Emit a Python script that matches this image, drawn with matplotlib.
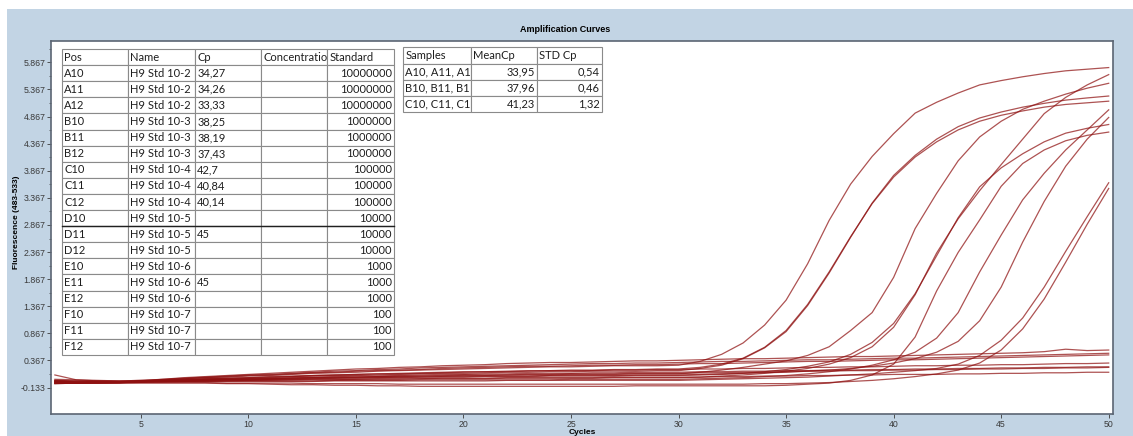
import numpy as np
import matplotlib
matplotlib.use('Agg')
import matplotlib.pyplot as plt
from matplotlib.patches import Rectangle
from matplotlib.ticker import FixedLocator, FormatStrFormatter

cycles = list(range(1, 51))

# Fluorescence (483-533) per cycle, one list per well
A10 = [-0.03, -0.04, -0.03, -0.03, -0.02, 0.00, 0.01, 0.02, 0.03, 0.04,
       0.05, 0.07, 0.08, 0.09, 0.09, 0.10, 0.11, 0.12, 0.13, 0.13,
       0.14, 0.15, 0.15, 0.16, 0.16, 0.17, 0.17, 0.17, 0.18, 0.18,
       0.22, 0.28, 0.40, 0.60, 0.90, 1.38, 1.98, 2.64, 3.27, 3.78,
       4.15, 4.45, 4.68, 4.84, 4.95, 5.04, 5.11, 5.17, 5.21, 5.245]
A11 = [-0.04, -0.05, -0.05, -0.04, -0.02, 0.00, 0.02, 0.03, 0.04, 0.05,
       0.07, 0.08, 0.09, 0.10, 0.11, 0.12, 0.13, 0.14, 0.15, 0.16,
       0.16, 0.17, 0.18, 0.18, 0.19, 0.19, 0.20, 0.20, 0.21, 0.21,
       0.24, 0.30, 0.41, 0.61, 0.92, 1.40, 2.00, 2.65, 3.26, 3.75,
       4.12, 4.40, 4.62, 4.78, 4.89, 4.97, 5.04, 5.09, 5.12, 5.15]
A12 = [0.00, -0.01, -0.01, -0.01, 0.00, 0.01, 0.03, 0.05, 0.06, 0.08,
       0.09, 0.11, 0.13, 0.14, 0.15, 0.17, 0.18, 0.19, 0.20, 0.21,
       0.22, 0.23, 0.24, 0.25, 0.25, 0.26, 0.27, 0.27, 0.27, 0.28,
       0.35, 0.48, 0.69, 1.02, 1.48, 2.15, 2.95, 3.62, 4.13, 4.55,
       4.93, 5.13, 5.30, 5.45, 5.53, 5.60, 5.66, 5.71, 5.74, 5.77]
B10 = [-0.01, -0.03, -0.03, -0.03, -0.02, -0.01, -0.01, 0.00, 0.01, 0.01,
       0.02, 0.02, 0.03, 0.04, 0.04, 0.05, 0.05, 0.06, 0.06, 0.06,
       0.07, 0.07, 0.07, 0.08, 0.08, 0.08, 0.08, 0.09, 0.09, 0.09,
       0.10, 0.11, 0.13, 0.16, 0.20, 0.26, 0.34, 0.48, 0.70, 1.05,
       1.60, 2.30, 3.00, 3.57, 3.92, 4.18, 4.40, 4.56, 4.65, 4.72]
B11 = [-0.05, -0.05, -0.04, -0.04, -0.03, -0.02, -0.02, -0.01, -0.01, 0.00,
       0.00, 0.01, 0.01, 0.01, 0.02, 0.02, 0.02, 0.03, 0.03, 0.03,
       0.03, 0.04, 0.04, 0.04, 0.04, 0.04, 0.05, 0.05, 0.05, 0.05,
       0.06, 0.08, 0.10, 0.13, 0.17, 0.22, 0.30, 0.42, 0.62, 0.98,
       1.58, 2.35, 2.98, 3.50, 3.98, 4.45, 4.92, 5.22, 5.45, 5.64]
B12 = [-0.02, -0.03, -0.03, -0.03, -0.02, -0.01, 0.00, 0.01, 0.02, 0.02,
       0.03, 0.04, 0.05, 0.05, 0.06, 0.07, 0.07, 0.08, 0.08, 0.09,
       0.09, 0.10, 0.10, 0.10, 0.11, 0.11, 0.11, 0.12, 0.12, 0.12,
       0.15, 0.19, 0.24, 0.30, 0.36, 0.46, 0.62, 0.92, 1.25, 1.90,
       2.80, 3.45, 4.05, 4.49, 4.78, 5.00, 5.15, 5.28, 5.39, 5.48]
C10 = [-0.02, -0.03, -0.03, -0.03, -0.02, -0.01, -0.01, 0.00, 0.01, 0.02,
       0.02, 0.03, 0.04, 0.04, 0.05, 0.05, 0.06, 0.06, 0.07, 0.07,
       0.08, 0.08, 0.08, 0.09, 0.09, 0.09, 0.09, 0.10, 0.10, 0.10,
       0.11, 0.12, 0.13, 0.14, 0.15, 0.17, 0.19, 0.22, 0.26, 0.32,
       0.40, 0.52, 0.72, 1.10, 1.72, 2.55, 3.30, 3.95, 4.45, 4.85]
C11 = [-0.06, -0.05, -0.04, -0.04, -0.03, -0.02, -0.02, -0.02, -0.01, -0.01,
       -0.01, -0.01, -0.01, 0.00, 0.00, 0.00, 0.00, 0.01, 0.01, 0.01,
       0.01, 0.01, 0.01, 0.01, 0.02, 0.02, 0.02, 0.02, 0.02, 0.02,
       0.03, 0.04, 0.05, 0.07, 0.09, 0.12, 0.16, 0.21, 0.28, 0.38,
       0.52, 0.78, 1.25, 2.00, 2.68, 3.33, 3.82, 4.25, 4.62, 4.99]
C12 = [-0.05, -0.05, -0.05, -0.05, -0.05, -0.05, -0.05, -0.05, -0.06, -0.06,
       -0.07, -0.08, -0.08, -0.09, -0.09, -0.10, -0.10, -0.11, -0.11, -0.11,
       -0.11, -0.11, -0.11, -0.11, -0.11, -0.11, -0.11, -0.10, -0.10, -0.10,
       -0.10, -0.10, -0.10, -0.10, -0.09, -0.07, -0.05, 0.00, 0.10, 0.30,
       0.80, 1.65, 2.36, 2.96, 3.58, 4.00, 4.25, 4.42, 4.52, 4.58]
D10 = [0.02, 0.01, 0.00, -0.01, 0.00, 0.02, 0.05, 0.07, 0.09, 0.11,
       0.13, 0.15, 0.17, 0.19, 0.21, 0.22, 0.24, 0.25, 0.27, 0.28,
       0.29, 0.31, 0.32, 0.33, 0.33, 0.34, 0.35, 0.36, 0.36, 0.37,
       0.38, 0.39, 0.40, 0.40, 0.41, 0.42, 0.43, 0.44, 0.44, 0.45,
       0.46, 0.47, 0.48, 0.49, 0.50, 0.51, 0.53, 0.575, 0.55, 0.56]
D11 = [-0.03, -0.04, -0.03, -0.03, -0.03, -0.03, -0.02, -0.02, -0.02, -0.02,
       -0.02, -0.02, -0.02, -0.01, -0.01, -0.01, -0.01, -0.01, -0.01, -0.01,
       -0.01, 0.00, 0.00, 0.00, 0.00, 0.00, 0.00, 0.00, 0.00, 0.00,
       0.01, 0.02, 0.03, 0.04, 0.05, 0.06, 0.08, 0.10, 0.12, 0.15,
       0.18, 0.22, 0.30, 0.46, 0.74, 1.15, 1.72, 2.38, 3.02, 3.645]
D12 = [0.00, -0.01, -0.02, -0.02, -0.01, 0.02, 0.04, 0.06, 0.08, 0.10,
       0.11, 0.13, 0.15, 0.17, 0.18, 0.20, 0.21, 0.23, 0.24, 0.25,
       0.26, 0.27, 0.28, 0.29, 0.30, 0.31, 0.31, 0.32, 0.32, 0.33,
       0.34, 0.35, 0.35, 0.36, 0.37, 0.38, 0.38, 0.39, 0.40, 0.41,
       0.41, 0.42, 0.43, 0.44, 0.45, 0.46, 0.47, 0.48, 0.49, 0.50]
E10 = [-0.01, -0.03, -0.04, -0.04, -0.02, 0.01, 0.03, 0.05, 0.07, 0.09,
       0.10, 0.12, 0.14, 0.15, 0.17, 0.18, 0.19, 0.20, 0.22, 0.23,
       0.24, 0.25, 0.26, 0.26, 0.27, 0.28, 0.28, 0.29, 0.29, 0.30,
       0.31, 0.31, 0.32, 0.33, 0.34, 0.35, 0.35, 0.36, 0.37, 0.38,
       0.38, 0.39, 0.40, 0.41, 0.42, 0.43, 0.44, 0.45, 0.46, 0.47]
E11 = [-0.05, -0.05, -0.05, -0.05, -0.04, -0.04, -0.04, -0.04, -0.05, -0.05,
       -0.05, -0.05, -0.06, -0.06, -0.06, -0.06, -0.07, -0.07, -0.07, -0.07,
       -0.07, -0.07, -0.07, -0.07, -0.07, -0.07, -0.07, -0.07, -0.07, -0.07,
       -0.07, -0.07, -0.07, -0.06, -0.06, -0.05, -0.04, -0.02, 0.00, 0.03,
       0.07, 0.12, 0.19, 0.32, 0.56, 0.95, 1.50, 2.18, 2.88, 3.54]
E12 = [-0.03, -0.04, -0.04, -0.03, -0.01, 0.00, 0.01, 0.03, 0.04, 0.05,
       0.06, 0.07, 0.09, 0.10, 0.11, 0.12, 0.12, 0.13, 0.14, 0.15,
       0.16, 0.16, 0.17, 0.18, 0.18, 0.18, 0.19, 0.19, 0.20, 0.20,
       0.21, 0.21, 0.22, 0.22, 0.23, 0.24, 0.24, 0.25, 0.25, 0.26,
       0.27, 0.27, 0.28, 0.28, 0.29, 0.29, 0.30, 0.31, 0.31, 0.32]
F10 = [-0.05, -0.04, -0.03, -0.03, -0.02, -0.01, 0.00, 0.02, 0.02, 0.03,
       0.04, 0.05, 0.06, 0.07, 0.08, 0.08, 0.09, 0.10, 0.11, 0.11,
       0.12, 0.12, 0.13, 0.13, 0.13, 0.14, 0.14, 0.15, 0.15, 0.15,
       0.16, 0.16, 0.17, 0.17, 0.18, 0.18, 0.19, 0.19, 0.20, 0.20,
       0.21, 0.21, 0.22, 0.22, 0.23, 0.23, 0.24, 0.24, 0.25, 0.25]
F11 = [-0.06, -0.05, -0.05, -0.04, -0.03, -0.01, 0.00, 0.01, 0.02, 0.03,
       0.03, 0.04, 0.05, 0.06, 0.06, 0.07, 0.08, 0.08, 0.09, 0.10,
       0.10, 0.10, 0.11, 0.11, 0.12, 0.12, 0.12, 0.13, 0.13, 0.13,
       0.14, 0.14, 0.15, 0.15, 0.16, 0.17, 0.17, 0.18, 0.18, 0.19,
       0.19, 0.20, 0.20, 0.21, 0.21, 0.22, 0.22, 0.23, 0.23, 0.24]
F12 = [0.10, 0.01, -0.01, -0.02, -0.02, -0.02, -0.01, -0.01, 0.00, 0.00,
       0.01, 0.01, 0.02, 0.02, 0.02, 0.03, 0.03, 0.03, 0.04, 0.04,
       0.04, 0.05, 0.05, 0.05, 0.05, 0.05, 0.06, 0.06, 0.06, 0.06,
       0.06, 0.07, 0.07, 0.08, 0.08, 0.09, 0.09, 0.10, 0.10, 0.11,
       0.11, 0.11, 0.12, 0.12, 0.13, 0.13, 0.14, 0.14, 0.15, 0.15]

curves = {'A10': A10, 'A11': A11, 'A12': A12, 'B10': B10, 'B11': B11, 'B12': B12,
          'C10': C10, 'C11': C11, 'C12': C12, 'D10': D10, 'D11': D11, 'D12': D12,
          'E10': E10, 'E11': E11, 'E12': E12, 'F10': F10, 'F11': F11, 'F12': F12}

# sample table
pos = list(curves.keys())
names = ['H9 Std 10-2'] * 3 + ['H9 Std 10-3'] * 3 + ['H9 Std 10-4'] * 3 + \
        ['H9 Std 10-5'] * 3 + ['H9 Std 10-6'] * 3 + ['H9 Std 10-7'] * 3
cp = ['34,27', '34,26', '33,33', '38,25', '38,19', '37,43', '42,7', '40,84', '40,14',
      '', '45', '', '', '45', '', '', '', '']
standard = ['10000000'] * 3 + ['1000000'] * 3 + ['100000'] * 3 + ['10000'] * 3 + \
           ['1000'] * 3 + ['100'] * 3

# replicate summary table
samples = ['A10, A11, A1', 'B10, B11, B1', 'C10, C11, C1']
mean_cp = ['33,95', '37,96', '41,23']
std_cp = ['0,54', '0,46', '1,32']

yticks = [-0.133, 0.367, 0.867, 1.367, 1.867, 2.367, 2.867, 3.367, 3.867, 4.367, 4.867, 5.367, 5.867]

plt.rcParams['font.family'] = ['Liberation Sans', 'DejaVu Sans']

W, H = 1133, 436
fig = plt.figure(figsize=(W / 100, H / 100), dpi=100, facecolor='white')
fig.patches.append(Rectangle((7 / W, 0), 1 - 7 / W, 1 - 9 / H, transform=fig.transFigure,
                             facecolor='#c2d4e4', edgecolor='none', zorder=-10))

ax = fig.add_axes([51 / W, 1 - 414 / H, 1062 / W, 373 / H])
ax.set_facecolor('white')
for well, values in curves.items():
    ax.plot(cycles, values, color='#8e1010', alpha=0.72, lw=0.9)

ax.set_xlim(0.82, 50.2)
ax.set_ylim(-0.62, 6.26)
ax.set_xticks([5, 10, 15, 20, 25, 30, 35, 40, 45, 50])
ax.yaxis.set_major_locator(FixedLocator(yticks))
ax.yaxis.set_minor_locator(FixedLocator([v + 0.25 for v in yticks]))
ax.yaxis.set_major_formatter(FormatStrFormatter('%.3f'))
ax.tick_params(labelsize=6.3, colors='#3a3a3a', length=3, width=0.6, pad=1)
ax.tick_params(which='minor', length=1.5, width=0.5, colors='#3a3a3a')
for side in ax.spines:
    ax.spines[side].set_color('#5b6573')
    ax.spines[side].set_linewidth(1.2)

ax.set_xlabel('Cycles', fontsize=6, fontweight='bold', labelpad=0)
fig.text(17 / W, 1 - 222 / H, 'Fluorescence (483-533)', rotation=90, fontsize=6,
         fontweight='bold', ha='center', va='center')
fig.text(565 / W, 1 - 30 / H, 'Amplification Curves', fontsize=6.5, fontweight='bold',
         ha='center', va='center')


# tables drawn on top of the plot area
def axes_box(x0, y0, x1, y1):
    return [(x0 - 51) / 1062, (414 - y1) / 373, (x1 - x0) / 1062, (y1 - y0) / 373]


def style_table(tbl, right_cols):
    tbl.auto_set_font_size(False)
    tbl.set_fontsize(8)
    for (r, c), cell in tbl.get_celld().items():
        cell.set_edgecolor('#8a8a8a')
        cell.set_linewidth(0.8)
        cell.PAD = 0.035
        txt = cell.get_text()
        txt.set_fontfamily('Lato')
        txt.set_color('#1e1e1e')
        if r > 0 and c in right_cols:
            txt.set_horizontalalignment('right')
        else:
            txt.set_horizontalalignment('left')


rows = [[p, n, c, '', s] for p, n, c, s in zip(pos, names, cp, standard)]
tbl = ax.table(cellText=rows, colLabels=['Pos', 'Name', 'Cp', 'Concentratio', 'Standard'],
               colWidths=[66, 67, 66, 66, 67], cellLoc='left', colLoc='left',
               bbox=axes_box(62, 49, 394, 355))
style_table(tbl, [4])

# darker rule under D10
b = axes_box(62, 49, 394, 355)
y_rule = b[1] + b[3] - 11 * b[3] / 19
ax.plot([b[0], b[0] + b[2]], [y_rule, y_rule], transform=ax.transAxes, color='#202020', lw=1.0)

rows2 = [[s, m, d] for s, m, d in zip(samples, mean_cp, std_cp)]
tbl2 = ax.table(cellText=rows2, colLabels=['Samples', 'MeanCp', 'STD Cp'],
                colWidths=[68, 66, 65], cellLoc='left', colLoc='left',
                bbox=axes_box(403, 47.5, 602, 112))
style_table(tbl2, [1, 2])

plt.savefig('out.png', dpi=100, facecolor=fig.get_facecolor())
